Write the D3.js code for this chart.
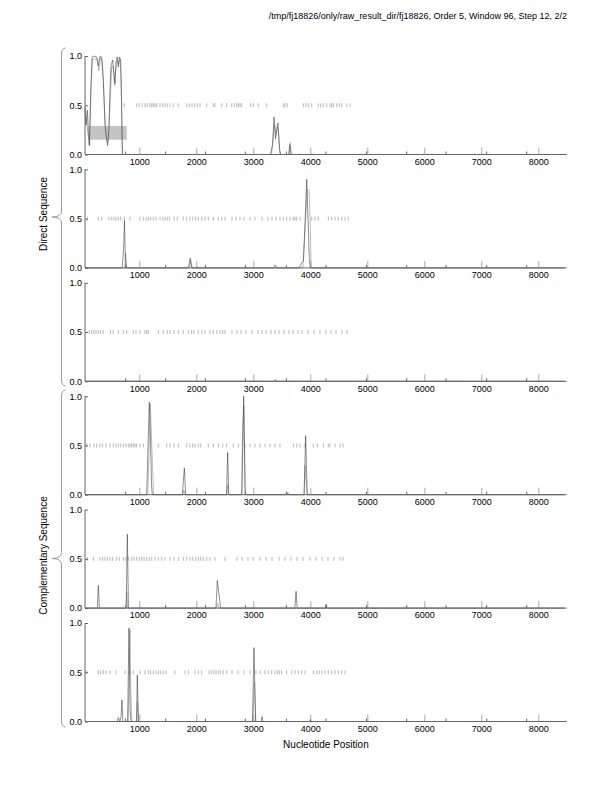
<!DOCTYPE html>
<html>
<head>
<meta charset="utf-8">
<script src="https://cdnjs.cloudflare.com/ajax/libs/d3/7.8.5/d3.min.js"></script>
<style>
  body { margin: 0; background: #fff; }
  svg text { font-family: "Liberation Sans", Arial, Helvetica, sans-serif; }
</style>
</head>
<body>
<svg width="612" height="792"></svg>
<script>
var titleText = "/tmp/fj18826/only/raw_result_dir/fj18826, Order 5, Window 96, Step 12, 2/2";
var groupLabels = ["Direct Sequence", "Complementary Sequence"];
var xLabel = "Nucleotide Position";
var xTicks = [1000, 2000, 3000, 4000, 5000, 6000, 7000, 8000];
var xMinorTicks = [761, 1463, 2160, 2860, 3580, 4275, 4985, 5691, 6381, 7095, 7796];
var yTicks = [0, 0.5, 1.0];
var seqRange = [48, 8500];

// panel 1 shaded box: [x0, x1, y0, y1]
var shade1 = [120, 780, 0.15, 0.29];

var black1 = [[48,0.48],[65,0.3],[88,0.45],[106,0.25],[123,0.09],[146,0.6],[170,0.98],[194,1.0],[252,0.99],[281,0.9],[311,1.0],[340,0.99],[369,0.75],[398,0.31],[428,0.15],[445,0.09],[468,0.28],[486,0.65],[504,0.9],[533,0.96],[556,0.82],[574,0.72],[591,0.94],[614,0.99],[632,0.89],[650,0.99],[673,0.96],[691,0.48],[702,0],[3300,0],[3340,0.1],[3363,0.38],[3390,0.16],[3410,0.25],[3433,0.32],[3460,0.05],[3480,0],[3620,0],[3640,0.1],[3660,0],[8460,0]];
var gray1 = [[48,0.4],[75,0.35],[100,0.2],[130,0.1],[155,0.7],[180,0.97],[260,0.97],[290,0.85],[320,0.98],[350,0.95],[380,0.6],[410,0.2],[440,0.12],[460,0.15],[490,0.55],[515,0.88],[540,0.9],[565,0.7],[585,0.85],[610,0.95],[640,0.92],[660,0.97],[680,0.8],[700,0.1],[715,0],[3320,0],[3350,0.2],[3375,0.3],[3395,0.2],[3425,0.28],[3445,0.2],[3470,0],[3630,0],[3650,0.12],[3670,0],[8460,0]];
var marks1 = [737,954,1000,1053,1100,1140,1188,1218,1246,1275,1305,1363,1411,1451,1491,1539,1596,1684,1832,1877,1925,1972,2018,2065,2182,2298,2328,2446,2533,2621,2667,2709,2737,2767,2796,2954,3000,3088,3235,3526,3556,3596,3877,3925,3965,4025,4140,4182,4228,4288,4346,4375,4404,4463,4509,4551,4639,4696];

var black2 = [[48,0],[700,0],[725,0.2],[740,0.48],[755,0.1],[770,0],[1860,0],[1893,0.1],[1920,0],[3360,0],[3385,0.03],[3410,0],[3800,0],[3850,0.05],[3880,0.07],[3910,0.5],[3937,0.9],[3960,0.5],[3982,0.1],[4000,0],[8460,0]];
var gray2 = [[48,0],[745,0],[760,0.15],[780,0],[1880,0],[1900,0.08],[1930,0],[3870,0],[3900,0.3],[3925,0.55],[3945,0.8],[3980,0.78],[4000,0.4],[4015,0],[8460,0]];
var marks2 = [88,281,340,468,516,556,591,632,674,737,837,1012,1070,1118,1158,1200,1246,1293,1363,1411,1451,1491,1526,1609,1667,1772,1832,1889,1937,1989,2035,2095,2153,2211,2298,2386,2446,2504,2626,2696,2767,2837,2942,3030,3153,3258,3328,3398,3468,3526,3586,3644,3702,3732,3761,3819,4025,4082,4140,4316,4375,4433,4491,4551,4609,4667];

var black3 = [[48,0],[3360,0],[3385,0.02],[3410,0],[8460,0]];
var gray3 = [[48,0],[8460,0]];
var marks3 = [123,165,205,240,281,321,367,496,542,632,719,779,895,942,1012,1100,1130,1158,1333,1421,1491,1539,1609,1684,1772,1860,1919,1960,2035,2095,2153,2240,2298,2358,2416,2463,2504,2626,2714,2784,2872,2977,3082,3153,3223,3310,3381,3451,3539,3626,3696,3784,3854,3960,4065,4170,4275,4363,4451,4556,4644];

var black4 = [[48,0],[1129,0],[1176,0.94],[1195,0.6],[1215,0.1],[1228,0],[1755,0],[1790,0.27],[1813,0],[2530,0],[2550,0.43],[2570,0],[2800,0],[2831,1.0],[2860,0],[3590,0],[3605,0.02],[3620,0],[3890,0],[3919,0.6],[3945,0],[8460,0]];
var gray4 = [[48,0],[1150,0],[1193,0.92],[1228,0.35],[1251,0],[1765,0],[1780,0.05],[1800,0],[2535,0],[2552,0.1],[2565,0],[2795,0],[2813,0.69],[2835,0.9],[2850,0.1],[2865,0],[3895,0],[3907,0.3],[3930,0.1],[3950,0],[8460,0]];
var marks4 = [77,135,205,252,311,357,416,486,544,591,632,673,720,767,808,837,866,895,925,954,1012,1071,1334,1480,1539,1609,1685,1831,1889,1936,1977,2036,2077,2211,2299,2387,2462,2533,2650,2737,2854,2942,3030,3118,3205,3293,3381,3468,3702,3761,3819,3907,4053,4123,4229,4316,4346,4433,4521,4574];

var black5 = [[48,0],[265,0],[281,0.23],[300,0],[770,0],[790,0.75],[810,0],[2345,0],[2369,0.28],[2427,0],[3730,0],[3750,0.17],[3770,0],[4265,0],[4280,0.04],[4295,0],[8460,0]];
var gray5 = [[48,0],[765,0],[780,0.16],[795,0],[2355,0],[2375,0.05],[2395,0],[8460,0]];
var marks5 = [88,194,311,357,398,439,486,533,603,650,720,767,808,866,907,954,1001,1042,1083,1130,1176,1217,1276,1334,1393,1451,1539,1609,1685,1772,1831,1889,1936,1989,2036,2077,2123,2182,2240,2328,2504,2714,2802,2907,2995,3118,3223,3328,3451,3556,3661,3767,3872,3995,4100,4205,4310,4416,4521,4574];

var black6 = [[48,0],[610,0],[632,0.04],[660,0],[680,0.05],[696,0.22],[712,0],[795,0],[819,0.95],[840,0.1],[855,0],[950,0],[965,0.47],[985,0],[2985,0],[3012,0.75],[3040,0],[3140,0],[3153,0.05],[3170,0],[3990,0],[4000,0.02],[4015,0],[8460,0]];
var gray6 = [[48,0],[805,0],[837,0.93],[850,0.3],[870,0],[955,0],[970,0.2],[985,0],[2995,0],[3020,0.4],[3045,0],[8460,0]];
var marks6 = [77,281,322,369,416,486,591,749,837,895,1012,1100,1159,1200,1246,1293,1334,1375,1421,1468,1626,1802,1860,1977,2036,2094,2223,2270,2311,2346,2387,2428,2475,2533,2626,2732,2837,2942,3047,3118,3205,3263,3323,3381,3421,3456,3498,3586,3674,3732,3789,3849,3907,4053,4112,4158,4200,4258,4316,4375,4433,4491,4551,4609];

function main() {
  var svg = d3.select("svg");
  var panels = [
    { black: black1, gray: gray1, marks: marks1 },
    { black: black2, gray: gray2, marks: marks2 },
    { black: black3, gray: gray3, marks: marks3 },
    { black: black4, gray: gray4, marks: marks4 },
    { black: black5, gray: gray5, marks: marks5 },
    { black: black6, gray: gray6, marks: marks6 }
  ];
  var top0 = 56, step = 113.4, ph = 98.5;
  var axisColor = "#666";

  var x = d3.scaleLinear().domain([0, 8500]).range([82.3, 566.8]);
  var y = d3.scaleLinear().domain([0, 1]).range([ph, 0]);

  var line = d3.line()
    .x(function (d) { return x(d[0]); })
    .y(function (d) { return y(d[1]); });

  // title
  svg.append("text")
    .attr("x", 567).attr("y", 19)
    .attr("text-anchor", "end")
    .style("font-size", "9px")
    .text(titleText);

  panels.forEach(function (p, i) {
    var g = svg.append("g")
      .attr("transform", "translate(0," + (top0 + step * i) + ")");

    if (i === 0) {
      g.append("rect")
        .attr("x", x(shade1[0]))
        .attr("width", x(shade1[1]) - x(shade1[0]))
        .attr("y", y(shade1[3]))
        .attr("height", y(shade1[2]) - y(shade1[3]))
        .attr("fill", "#c4c4c4");
    }

    // markers along 0.5
    g.selectAll(".mark").data(p.marks).enter().append("line")
      .attr("class", "mark")
      .attr("x1", function (d) { return x(d); })
      .attr("x2", function (d) { return x(d); })
      .attr("y1", y(0.5) - 2)
      .attr("y2", y(0.5) + 2)
      .attr("stroke", "#999")
      .attr("stroke-width", 0.7);

    // x axis
    var xAxis = g.append("g")
      .attr("transform", "translate(0," + ph + ")")
      .call(d3.axisBottom(x).tickValues(xTicks).tickSize(-7).tickPadding(4)
        .tickFormat(d3.format("d")));
    xAxis.select(".domain").remove();
    xAxis.selectAll(".tick line").attr("stroke", "#aaa");
    xAxis.selectAll("text").style("font-size", "9px").attr("fill", "#000");

    g.selectAll(".minor").data(xMinorTicks).enter().append("line")
      .attr("class", "minor")
      .attr("x1", function (d) { return x(d); })
      .attr("x2", function (d) { return x(d); })
      .attr("y1", ph - 3).attr("y2", ph)
      .attr("stroke", "#666");

    // y axis
    var yAxis = g.append("g")
      .attr("transform", "translate(" + x(seqRange[0]) + ",0)")
      .call(d3.axisLeft(y).tickValues(yTicks).tickSize(-3).tickPadding(3)
        .tickFormat(d3.format(".1f")));
    yAxis.select(".domain").remove();
    yAxis.selectAll(".tick line").attr("stroke", axisColor);
    yAxis.selectAll("text").style("font-size", "9px").attr("fill", "#000");

    g.append("line")
      .attr("x1", x(seqRange[0])).attr("x2", x(seqRange[0]))
      .attr("y1", 0).attr("y2", ph)
      .attr("stroke", axisColor);

    // curves
    g.append("path").datum(p.gray)
      .attr("d", line).attr("fill", "none")
      .attr("stroke", "#a0a0a0").attr("stroke-width", 0.7);
    g.append("path").datum(p.black)
      .attr("d", line).attr("fill", "none")
      .attr("stroke", "#333").attr("stroke-width", 0.55);

    g.append("line")
      .attr("x1", x(seqRange[0])).attr("x2", x(seqRange[1]))
      .attr("y1", ph).attr("y2", ph)
      .attr("stroke", axisColor);
  });

  // group braces
  function bracePath(bx, y0, y1, tipX) {
    var ym = (y0 + y1) / 2;
    return "M" + (bx + 4) + "," + y0 +
      " Q" + bx + "," + y0 + " " + bx + "," + (y0 + 6) +
      " L" + bx + "," + (ym - 6) +
      " Q" + bx + "," + ym + " " + tipX + "," + ym +
      " Q" + bx + "," + ym + " " + bx + "," + (ym + 6) +
      " L" + bx + "," + (y1 - 6) +
      " Q" + bx + "," + y1 + " " + (bx + 4) + "," + y1;
  }
  var braces = [[48, 386], [390, 727]];
  braces.forEach(function (b, i) {
    svg.append("path")
      .attr("d", bracePath(61.5, b[0], b[1], 52))
      .attr("fill", "none")
      .attr("stroke", "#999");
    var cy = (b[0] + b[1]) / 2 - 3;
    svg.append("text")
      .attr("transform", "translate(47," + cy + ") rotate(-90)")
      .attr("text-anchor", "middle")
      .style("font-size", "10px")
      .text(groupLabels[i]);
  });

  svg.append("text")
    .attr("x", (x(seqRange[0]) + x(seqRange[1])) / 2)
    .attr("y", 748)
    .attr("text-anchor", "middle")
    .style("font-size", "10px")
    .text(xLabel);
}
main();
</script>
</body>
</html>
